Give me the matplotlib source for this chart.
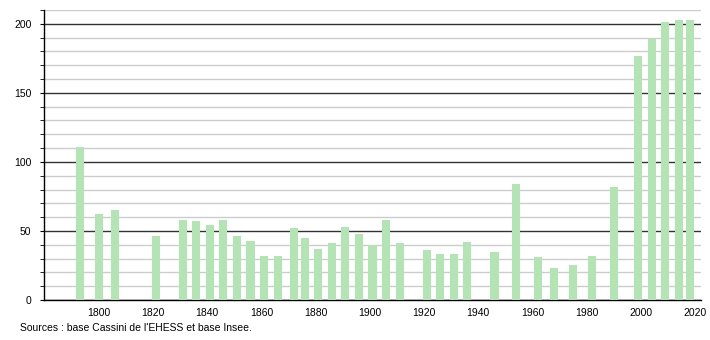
import matplotlib
matplotlib.use("Agg")
import matplotlib.pyplot as plt
from matplotlib.ticker import MultipleLocator

years = [1793, 1800, 1806, 1821, 1831, 1836, 1841, 1846, 1851, 1856, 1861, 1866,
         1872, 1876, 1881, 1886, 1891, 1896, 1901, 1906, 1911, 1921, 1926, 1931,
         1936, 1946, 1954, 1962, 1968, 1975, 1982, 1990, 1999, 2004, 2009, 2014, 2018]
population = [111, 62, 65, 46, 58, 57, 54, 58, 46, 43, 32, 32,
              52, 45, 37, 41, 53, 48, 40, 58, 41, 36, 33, 33,
              42, 35, 84, 31, 23, 25, 32, 82, 177, 189, 201, 203, 203]
xtick_years = [1800, 1820, 1840, 1860, 1880, 1900, 1920, 1940, 1960, 1980, 2000, 2020]
source_text = "Sources : base Cassini de l'EHESS et base Insee."

plt.rcParams['font.family'] = ['Liberation Sans', 'DejaVu Sans']

fig = plt.figure(figsize=(7.1, 3.4), dpi=100)
ax = fig.add_axes([44/710, 40/340, (701-44)/710, 290/340])

ax.bar(years, population, width=3.0, color='#b3e4b3', zorder=3)

ax.set_xlim(1779.8, 2022.2)
ax.set_ylim(0, 210)
ax.yaxis.set_major_locator(MultipleLocator(50))
ax.yaxis.set_minor_locator(MultipleLocator(10))
ax.set_xticks(xtick_years)
ax.set_xticklabels([str(y) for y in xtick_years])

ax.grid(which='minor', axis='y', color='#cccccc', linewidth=1.0, zorder=1)
ax.grid(which='major', axis='y', color='#333333', linewidth=1.0, zorder=2)
ax.set_axisbelow(True)

for s in ['top', 'right']:
    ax.spines[s].set_visible(False)
ax.spines['left'].set_color('black')
ax.spines['bottom'].set_color('black')
ax.spines['left'].set_linewidth(1.0)
ax.spines['bottom'].set_linewidth(1.0)

ax.tick_params(axis='x', length=0, labelsize=7.5, pad=6, colors='black')
ax.tick_params(axis='y', which='major', length=3, labelsize=7.5, pad=6, colors='black')
ax.tick_params(axis='y', which='minor', length=3, colors='black')

fig.text(20/710, 1 - 328/340, source_text, fontsize=7.5, va='center', ha='left')

fig.savefig('out.png', dpi=100)
